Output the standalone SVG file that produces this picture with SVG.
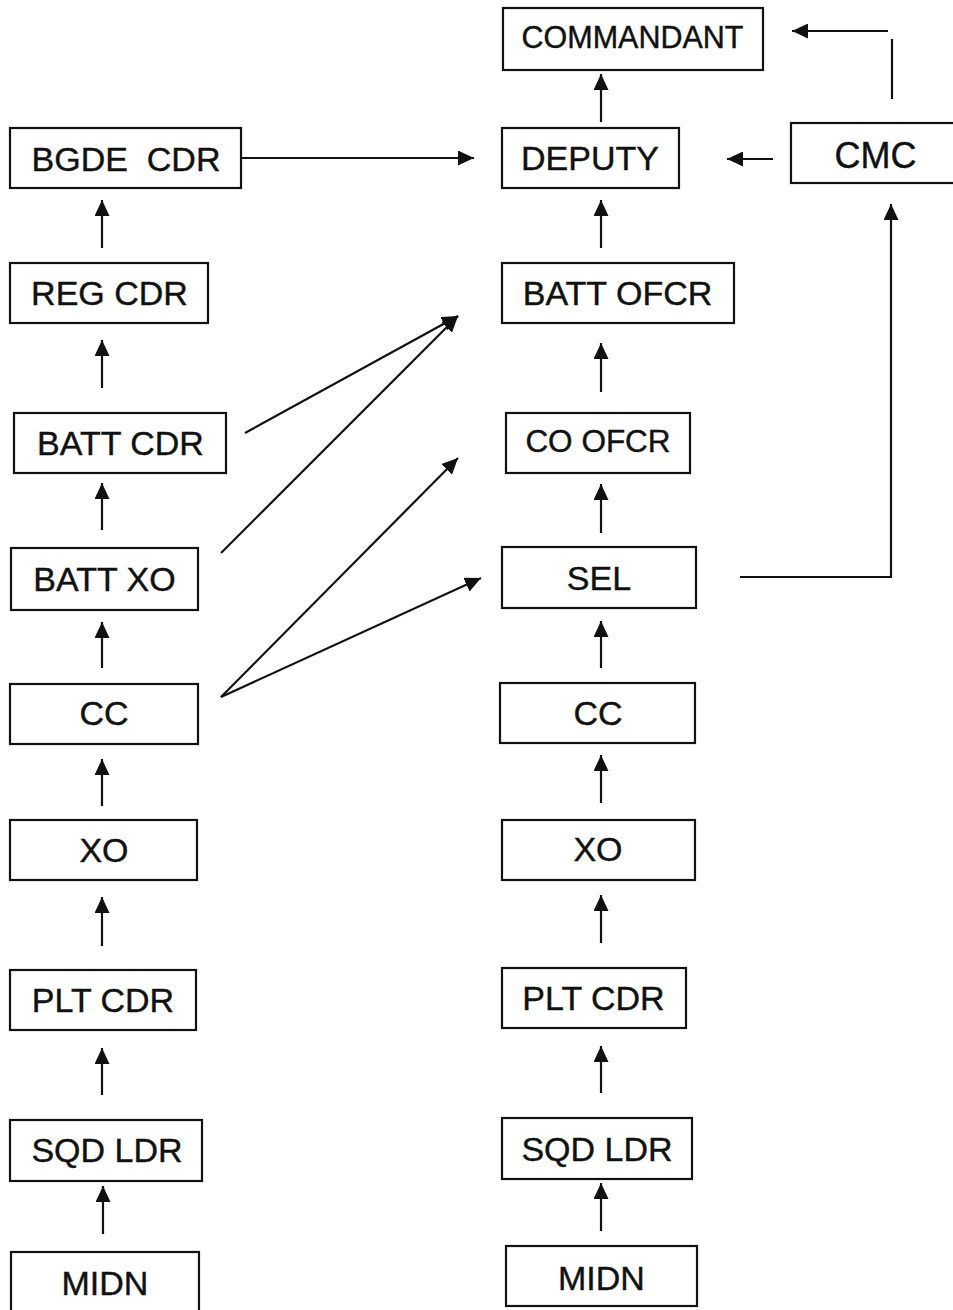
<svg xmlns="http://www.w3.org/2000/svg" width="953" height="1310" viewBox="0 0 953 1310">
<style>
.box{fill:#fff;stroke:#111;stroke-width:2.2}
.lbl{font-family:"Liberation Sans",Arial,sans-serif;font-size:34px;fill:#111;stroke:#111;stroke-width:0.4;text-anchor:middle}
.ln{fill:none;stroke:#111;stroke-width:2.2}
.arr{fill:none;stroke:#111;stroke-width:2.2;marker-end:url(#ah)}
</style>
<defs>
<marker id="ah" markerUnits="userSpaceOnUse" viewBox="0 0 16 15" refX="16" refY="7.5" markerWidth="16" markerHeight="15" orient="auto">
<path d="M0,0 L16,7.5 L0,15 z" fill="#111"/>
</marker>
</defs>
<rect width="953" height="1310" fill="#fff"/>
<g id="connectors">
<path class="arr" d="M235,158 H474"/>
<path class="arr" d="M773,159 H727"/>
<path class="arr" d="M888,31 H792"/>
<path class="ln" d="M892,99 V39"/>
<path class="arr" d="M740,577 H891 V204"/>
<path class="arr" d="M245,433 L458,316"/>
<path class="arr" d="M221,553 L458,316"/>
<path class="arr" d="M221,697 L458,458"/>
<path class="arr" d="M221,697 L481,578"/>
<path class="arr" d="M102,248 V200"/>
<path class="arr" d="M102,388 V340"/>
<path class="arr" d="M102,530 V483"/>
<path class="arr" d="M102,668 V622"/>
<path class="arr" d="M102,806 V759"/>
<path class="arr" d="M102,946 V897"/>
<path class="arr" d="M102,1095 V1048"/>
<path class="arr" d="M103,1234 V1186"/>
<path class="arr" d="M601,122 V74"/>
<path class="arr" d="M601,248 V200"/>
<path class="arr" d="M601,392 V343"/>
<path class="arr" d="M601,533 V484"/>
<path class="arr" d="M601,668 V621"/>
<path class="arr" d="M601,803 V755"/>
<path class="arr" d="M601,943 V895"/>
<path class="arr" d="M601,1093 V1046"/>
<path class="arr" d="M601,1231 V1183"/>
</g>
<g id="commandant"><rect class="box" x="503" y="8" width="260" height="62"/><text class="lbl" x="632.5" y="48" style="font-size:30.5px">COMMANDANT</text></g>
<g id="deputy"><rect class="box" x="502" y="128" width="177" height="60"/><text class="lbl" x="590" y="170">DEPUTY</text></g>
<g id="cmc"><rect class="box" x="791" y="123" width="170" height="60"/><text class="lbl" x="875.5" y="168" style="font-size:36px">CMC</text></g>
<g id="batt-ofcr"><rect class="box" x="502" y="263" width="232" height="60"/><text class="lbl" x="617.5" y="305">BATT OFCR</text></g>
<g id="co-ofcr"><rect class="box" x="506" y="413" width="184" height="60"/><text class="lbl" x="598" y="452" style="font-size:31.5px">CO OFCR</text></g>
<g id="sel"><rect class="box" x="502" y="547" width="194" height="61"/><text class="lbl" x="599" y="590">SEL</text></g>
<g id="cc-r"><rect class="box" x="500" y="683" width="195" height="60"/><text class="lbl" x="598" y="725">CC</text></g>
<g id="xo-r"><rect class="box" x="502" y="820" width="193" height="60"/><text class="lbl" x="598" y="861">XO</text></g>
<g id="plt-cdr-r"><rect class="box" x="502" y="968" width="184" height="60"/><text class="lbl" x="593.5" y="1010">PLT CDR</text></g>
<g id="sqd-ldr-r"><rect class="box" x="502" y="1118" width="190" height="61"/><text class="lbl" x="597" y="1161">SQD LDR</text></g>
<g id="midn-r"><rect class="box" x="506" y="1246" width="191" height="60"/><text class="lbl" x="601.5" y="1290">MIDN</text></g>
<g id="bgde-cdr"><rect class="box" x="10" y="128" width="231" height="60"/><text class="lbl" x="126" y="171" xml:space="preserve">BGDE  CDR</text></g>
<g id="reg-cdr"><rect class="box" x="10" y="263" width="198" height="60"/><text class="lbl" x="109.5" y="305">REG CDR</text></g>
<g id="batt-cdr"><rect class="box" x="14" y="413" width="212" height="60"/><text class="lbl" x="120.5" y="455">BATT CDR</text></g>
<g id="batt-xo"><rect class="box" x="11" y="548" width="187" height="62"/><text class="lbl" x="104.5" y="591">BATT XO</text></g>
<g id="cc-l"><rect class="box" x="10" y="684" width="188" height="60"/><text class="lbl" x="104" y="725">CC</text></g>
<g id="xo-l"><rect class="box" x="10" y="820" width="187" height="60"/><text class="lbl" x="104" y="862">XO</text></g>
<g id="plt-cdr-l"><rect class="box" x="10" y="970" width="186" height="60"/><text class="lbl" x="103" y="1012">PLT CDR</text></g>
<g id="sqd-ldr-l"><rect class="box" x="10" y="1120" width="192" height="61"/><text class="lbl" x="107" y="1162">SQD LDR</text></g>
<g id="midn-l"><rect class="box" x="11" y="1252" width="188" height="70"/><text class="lbl" x="105" y="1295">MIDN</text></g>
</svg>
